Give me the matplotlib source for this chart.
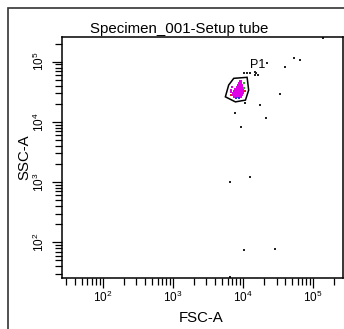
import numpy as np
import matplotlib
matplotlib.use('Agg')
import matplotlib.pyplot as plt
from matplotlib.patches import Rectangle, Polygon
from matplotlib.ticker import LogLocator, FixedLocator, NullFormatter

plt.rcParams['font.family'] = ['Liberation Sans', 'DejaVu Sans']
plt.rcParams['mathtext.default'] = 'regular'

title = 'Specimen_001-Setup tube'
x_label = 'FSC-A'
y_label = 'SSC-A'
axis_min = 26
axis_max = 262144
major_ticks = [1e2, 1e3, 1e4, 1e5]
major_labels = ['$10^{2}$', '$10^{3}$', '$10^{4}$', '$10^{5}$']

# gate P1 (FSC-A, SSC-A)
gate_name = 'P1'
gate_x = [7350, 11400, 12000, 10800, 7760, 5580, 6220]
gate_y = [52900, 55000, 33700, 23000, 21500, 26100, 40900]
gate_label_pos = (12700, 78500)

# main population (magenta)
pop_x = [9140, 9450,
         8850, 9140, 9450,
         8570, 8850, 9140, 9450, 9770,
         8290, 8570, 8850, 9140, 9450, 9770,
         7760, 8020, 8290, 8570, 8850, 9140, 9450, 9770, 10100,
         7520, 7760, 8020, 8290, 8570, 8850, 9140, 9450, 9770, 10100,
         7270, 7520, 7760, 8020, 8290, 8570, 8850, 9140, 9450, 9770, 10100,
         7270, 7520, 7760, 8020, 8290, 8570, 8850, 9140, 9450, 9770,
         7520, 7760, 8020, 8290, 8570, 8850, 9140, 9450,
         6800, 7030, 6800]
pop_y = [47600, 47600,
         44200, 44200, 44200,
         40900, 40900, 40900, 40900, 40900,
         37900, 37900, 37900, 37900, 37900, 37900,
         35100, 35100, 35100, 35100, 35100, 35100, 35100, 35100, 35100,
         32500, 32500, 32500, 32500, 32500, 32500, 32500, 32500, 32500, 32500,
         30100, 30100, 30100, 30100, 30100, 30100, 30100, 30100, 30100, 30100, 30100,
         27900, 27900, 27900, 27900, 27900, 27900, 27900, 27900, 27900, 27900,
         26300, 26300, 26300, 26300, 26300, 26300, 26300, 26300,
         31300, 37900, 34000]

# a few other-coloured events at the edge of the population
edge_x = [6800, 10800, 10450, 10450, 8020, 8850]
edge_y = [27900, 32500, 44200, 36500, 25300, 25300]
edge_c = ['#e02020', '#e02020', '#20b020', '#20b020', '#3030d0', '#3030d0']

# stray events (black)
stray_x = [140000, 52800, 64400, 40200, 22000, 10200, 11400, 12400,
           15000, 15500, 15000, 16200, 33300, 10800, 17700, 7590,
           21300, 9460, 12700, 6440, 10200, 28200, 6590]
stray_y = [251000, 114000, 107000, 80700, 94000, 65600, 65600, 65600,
           68100, 64100, 60000, 60000, 28900, 20300, 19000, 14300,
           11700, 8070, 1210, 1000, 74.7, 77.6, 26.5]


def main():
    fig = plt.figure(figsize=(3.44, 3.29), dpi=100)

    # outer frame of the plot panel (runs off the right and bottom)
    fig.add_artist(Rectangle((8 / 344, -0.2), 1.2, 1 - 8 / 329 + 0.2,
                             transform=fig.transFigure, fill=False,
                             edgecolor='#333333', lw=1.2))

    ax = fig.add_axes([62 / 344, 1 - 277.5 / 329, 280.5 / 344, 241 / 329])
    ax.set_xscale('log')
    ax.set_yscale('log')
    ax.set_xlim(axis_min, axis_max)
    ax.set_ylim(axis_min, axis_max)

    ax.scatter(stray_x, stray_y, s=1.0, marker='s', c='#222222', lw=0)
    ax.scatter(pop_x, pop_y, s=4.0, marker='s', c='#e000e6', lw=0)
    ax.scatter(edge_x, edge_y, s=2.0, marker='s', c=edge_c, lw=0)

    pts = np.column_stack([gate_x, gate_y])
    ax.add_patch(Polygon(pts, closed=True, fill=False, edgecolor='black',
                         lw=1.1, joinstyle='miter'))
    ax.text(gate_label_pos[0], gate_label_pos[1], gate_name, fontsize=9,
            ha='left', va='baseline')

    for axis in (ax.xaxis, ax.yaxis):
        axis.set_major_locator(FixedLocator(major_ticks))
        axis.set_minor_locator(LogLocator(base=10, subs=np.arange(2, 10)))
        axis.set_minor_formatter(NullFormatter())
    ax.set_xticklabels(major_labels)
    ax.set_yticklabels(major_labels, rotation=90, va='center')

    ax.tick_params(which='major', direction='out', length=7.5, width=0.9,
                   labelsize=8.5, pad=1)
    ax.tick_params(which='minor', direction='out', length=4.8, width=0.9)
    ax.tick_params(axis='y', which='major', pad=3)
    for sp in ax.spines.values():
        sp.set_linewidth(1.1)

    ax.set_xlabel(x_label, fontsize=10.8)
    ax.xaxis.set_label_coords(0.495, -0.137)
    ax.set_ylabel(y_label, fontsize=10.8)
    ax.yaxis.set_label_coords(-0.108, 0.5)

    fig.text(179 / 344, 1 - 33 / 329, title, fontsize=10.8, ha='center',
             va='baseline')

    fig.savefig('out.png', dpi=100)


main()
